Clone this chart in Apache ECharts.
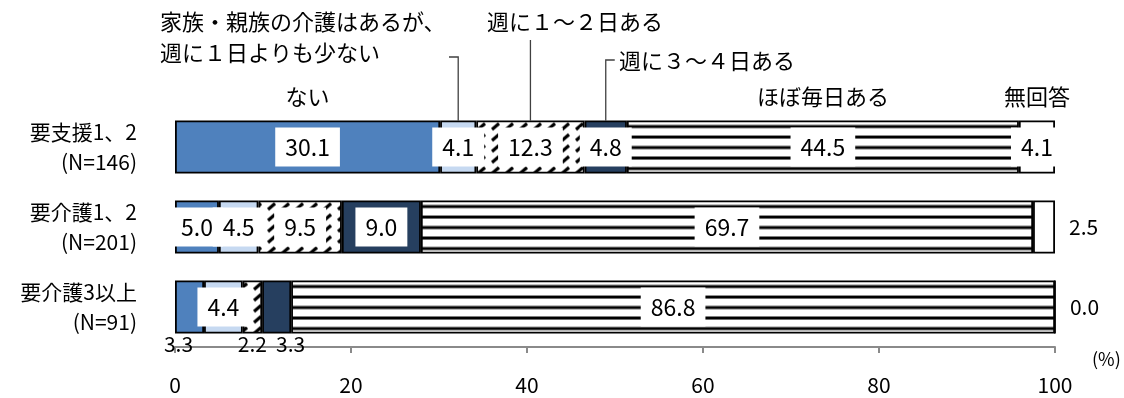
<!DOCTYPE html>
<html>
<head>
<meta charset="utf-8">
<script src="https://cdn.jsdelivr.net/npm/echarts@6/dist/echarts.min.js"></script>
<style>
html, body { margin: 0; padding: 0; background: #fff; }
#chart { width: 1124px; height: 398px; }
</style>
</head>
<body>
<div id="chart"></div>
<script>
// 介護の頻度（要介護度別）
const categories = ['要支援1、2\n(N=146)', '要介護1、2\n(N=201)', '要介護3以上\n(N=91)']
const seriesNames = ['ない', '家族・親族の介護はあるが、週に１日よりも少ない', '週に１～２日ある', '週に３～４日ある', 'ほぼ毎日ある', '無回答']
const valNai = [30.1, 5.0, 3.3]
const valLess = [4.1, 4.5, 4.4]
const valWeek12 = [12.3, 9.5, 2.2]
const valWeek34 = [4.8, 9.0, 3.3]
const valDaily = [44.5, 69.7, 86.8]
const valNoAnswer = [4.1, 2.5, 0.0]
const xTicks = [0, 20, 40, 60, 80, 100]

const FONT = "'Noto Sans CJK JP', sans-serif"
const BAR_W = 53
const values = [valNai, valLess, valWeek12, valWeek34, valDaily, valNoAnswer]
// 100%積み上げ：行ごとに合計で割る
const totals = categories.map((c, i) => values.reduce((s, v) => s + v[i], 0))

// 模様
function hLinePattern() {
  const c = document.createElement('canvas')
  c.width = 8
  c.height = BAR_W
  const g = c.getContext('2d')
  g.fillStyle = '#fff'
  g.fillRect(0, 0, 8, BAR_W)
  g.fillStyle = '#000'
  ;[6, 16.5, 27, 37.5, 48].forEach(y => g.fillRect(0, y - 1.5, 8, 3))
  return c
}
function diagPattern() {
  const w = 14
  const h = 11
  const c = document.createElement('canvas')
  c.width = w
  c.height = h
  const g = c.getContext('2d')
  g.fillStyle = '#fff'
  g.fillRect(0, 0, w, h)
  g.strokeStyle = '#000'
  g.lineWidth = 3.2
  g.beginPath()
  g.moveTo(2, 9)
  g.lineTo(9, 3)
  g.stroke()
  return c
}
const hLineImg = hLinePattern()
const diagImg = diagPattern()

const boxLabel = {
  show: true,
  position: 'inside',
  backgroundColor: '#fff',
  padding: [8, 10],
  fontSize: 23,
  fontFamily: FONT,
  color: '#000'
}
const belowLabel = { position: 'bottom', distance: 0, backgroundColor: 'transparent', padding: 0, fontSize: 21 }
const rightLabel = { position: 'right', distance: 14, backgroundColor: 'transparent', padding: 0, fontSize: 21 }
// [系列][行] のラベル上書き
const labelFix = {
  '0-2': Object.assign({ offset: [-11, 0] }, belowLabel),
  '2-2': belowLabel,
  '3-2': Object.assign({ offset: [14, 0] }, belowLabel),
  '5-1': rightLabel,
  '5-2': rightLabel
}
const fills = ['#4F81BD', '#C6D9F1', 'diag', '#263F5F', 'hline', '#fff']

const chart = echarts.init(document.getElementById('chart'))

function buildSeries(barTops) {
  return values.map((vals, si) => ({
    name: seriesNames[si],
    type: 'bar',
    stack: 'all',
    barWidth: BAR_W,
    itemStyle: { borderColor: '#000', borderWidth: 1.8 },
    label: Object.assign({}, boxLabel, {
      formatter: p => p.data.raw.toFixed(1)
    }),
    data: vals.map((v, ri) => {
      let color = fills[si]
      if (color === 'hline') {
        color = { image: hLineImg, repeat: 'repeat', y: barTops ? barTops[ri] : 0 }
      } else if (color === 'diag') {
        color = { image: diagImg, repeat: 'repeat', y: barTops ? barTops[ri] : 0 }
      }
      const item = { value: v / totals[ri] * 100, raw: v, itemStyle: { color } }
      if (labelFix[si + '-' + ri]) item.label = labelFix[si + '-' + ri]
      return item
    })
  }))
}

const option = {
  animation: false,
  backgroundColor: '#fff',
  grid: { left: 175, right: 69, top: 107, bottom: 51 },
  xAxis: {
    type: 'value',
    min: xTicks[0],
    max: xTicks[xTicks.length - 1],
    interval: xTicks[1] - xTicks[0],
    axisLine: { show: true, lineStyle: { color: '#8a8a8a', width: 2 } },
    axisTick: { show: true, length: 6, lineStyle: { color: '#8a8a8a', width: 2 } },
    splitLine: { show: false },
    axisLabel: { color: '#000', fontSize: 21, fontFamily: FONT, margin: 28 }
  },
  yAxis: {
    type: 'category',
    inverse: true,
    data: categories,
    axisLine: { show: false },
    axisTick: { show: false },
    axisLabel: { color: '#000', fontSize: 21, fontFamily: FONT, lineHeight: 30, align: 'right', margin: 38 }
  },
  series: buildSeries(null)
}
chart.setOption(option)

// 位置を求めて模様と注記を付ける
const xOf = v => chart.convertToPixel({ xAxisIndex: 0 }, v)
const barTops = categories.map((c, i) => chart.convertToPixel({ yAxisIndex: 0 }, i) - BAR_W / 2)
const mids = []
let acc = 0
values.forEach(vals => {
  const v = vals[0] / totals[0] * 100
  mids.push(xOf(acc + v / 2))
  acc += v
})
const top1 = barTops[0]

function txt(text, x, y, align) {
  return {
    type: 'text',
    style: {
      text, x, y,
      fontSize: 22, fontFamily: FONT, fill: '#000',
      align: align || 'left', verticalAlign: 'middle',
      textAlign: align || 'left', textVerticalAlign: 'middle'
    }
  }
}
function leader(points) {
  return { type: 'polyline', shape: { points }, style: { stroke: '#404040', lineWidth: 1.3, fill: null } }
}

option.series = buildSeries(barTops)
option.graphic = [
  txt('家族・親族の介護はあるが、', 160, 22),
  txt('週に１日よりも少ない', 160, 53),
  txt('週に１～２日ある', 487, 22),
  txt('週に３～４日ある', 619, 61),
  txt('ない', mids[0], 97, 'center'),
  txt('ほぼ毎日ある', mids[4], 97, 'center'),
  txt('無回答', mids[5], 97, 'center'),
  leader([[449, 57], [mids[1], 57], [mids[1], top1]]),
  leader([[mids[2], 40], [mids[2], top1]]),
  leader([[mids[3] + 9, 60], [mids[3], 60], [mids[3], top1]]),
  {
    type: 'text',
    style: { text: '(%)', x: 1092, y: 359, fontSize: 18, fontFamily: FONT, fill: '#000', verticalAlign: 'middle', textVerticalAlign: 'middle' }
  }
]
chart.setOption(option, true)
</script>
</body>
</html>
